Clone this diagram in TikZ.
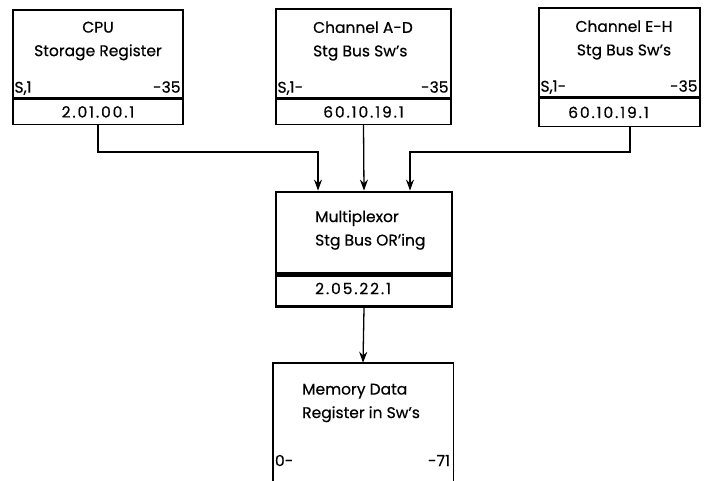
\documentclass[tikz,border=0pt]{standalone}
\usepackage{fontspec}
\setmainfont{Poppins}[FakeBold=0.5]
\usetikzlibrary{arrows.meta}
\begin{document}
\begin{tikzpicture}[>={Stealth[length=11pt,width=8pt]},x=1pt,y=-1pt,
  box/.style={draw,line width=1.4pt,inner sep=0pt},
  txt/.style={font=\fontsize{15.5}{23.5}\selectfont,inner sep=0pt},
  num/.style={txt,font=\fontsize{15.5}{23.5}\selectfont\addfontfeature{LetterSpace=12}},
  wire/.style={line width=1.3pt,->}]
\useasboundingbox (0,0) rectangle (706,481);
% source boxes
\node[box,minimum width=170pt,minimum height=88pt] (cpu) at (98,54) {};
\node[box,minimum width=170pt,minimum height=25pt,anchor=north] (cpuno) at (cpu.south) {};
\node[box,minimum width=175pt,minimum height=89pt] (chad) at (363.5,53.5) {};
\node[box,minimum width=175pt,minimum height=25pt,anchor=north] (chadno) at (chad.south) {};
\node[box,minimum width=161pt,minimum height=89pt] (cheh) at (619.5,52.5) {};
\node[box,minimum width=161pt,minimum height=28pt,anchor=north] (chehno) at (cheh.south) {};
\node[txt,align=center] at (98,41) {CPU\\Storage Register};
\node[txt,align=left] at (363,41) {Channel A-D\\Stg Bus Sw's};
\node[txt,align=center] at (624,40) {Channel E-H\\Stg Bus Sw's};
\foreach \b/\l in {cpu/{S,1},chad/{S,1-},cheh/{S,1-}}
{
    \node[txt,anchor=base west] at ([xshift=2pt,yshift=6pt]\b.south west) {\l};
    \node[txt,anchor=base east] at ([xshift=-3pt,yshift=6pt]\b.south east) {-35};
}
\node[num] at (cpuno) {2.01.00.1};
\node[num] at (chadno) {60.10.19.1};
\node[num] at ([xshift=-11pt]chehno.center) {60.10.19.1};
% multiplexor
\node[box,line width=2.8pt,minimum width=176pt,minimum height=81pt] (mux) at (364,232.5) {};
\node[box,line width=2.8pt,minimum width=176pt,minimum height=31pt,anchor=north] (muxno) at (mux.south) {};
\node[txt,align=left,anchor=west] at (315,230) {Multiplexor\\Stg Bus OR'ing};
\node[num,anchor=west] at (315,288.5) {2.05.22.1};
% memory box, runs off the bottom
\node[minimum width=180pt,minimum height=118pt,inner sep=0pt] (mem) at (363,422) {};
\draw[line width=1.4pt] (mem.south west) |- (mem.north) -| (mem.south east);
\node[txt,align=left,anchor=west] at (302,403) {Memory Data\\Register in Sw's};
\node[txt,anchor=base west] at ([xshift=2pt,yshift=15pt]mem.south west) {0-};
\node[txt,anchor=base east] at ([xshift=-3pt,yshift=15pt]mem.south east) {-71};
% connectors
\coordinate (in1) at ([xshift=-46pt]mux.north);
\coordinate (in3) at ([xshift=46pt]mux.north);
\draw[wire] (cpuno.south) -- ++(0,27) -| (in1);
\draw[wire] (chadno.south) -- (mux.north);
\draw[wire] ([xshift=10.5pt]chehno.south) -- ++(0,25) -| (in3);
\draw[wire] (muxno.south) -- (mem.north);
\end{tikzpicture}
\end{document}
